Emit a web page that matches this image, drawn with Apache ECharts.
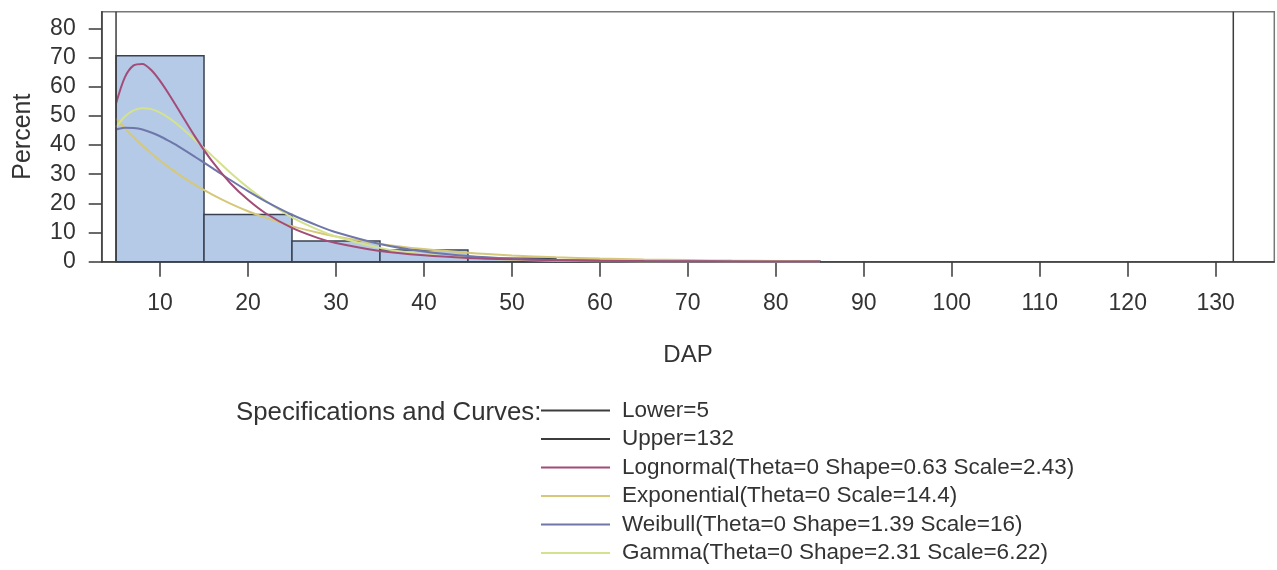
<!DOCTYPE html>
<html>
<head>
<meta charset="utf-8">
<title>DAP distribution</title>
<script src="https://cdn.jsdelivr.net/npm/echarts@6/dist/echarts.min.js"></script>
<style>
  html, body { margin: 0; padding: 0; background: #ffffff; }
  #chart { width: 1277px; height: 570px; }
</style>
</head>
<body>
<div id="chart"></div>
<script>
// Histogram of DAP (bin width 10), percent of trees per bin
const binStart = [5, 15, 25, 35, 45, 55, 65, 75];
const binWidth = 10;
const binPercent = [70.6, 16.2, 7.1, 4.0, 1.2, 0.5, 0.2, 0.2];

// Specification limits
const lowerLimit = 5;
const upperLimit = 132;

// Fitted density curves, scaled to percent per bin
const curveX = [5, 6, 7, 8, 9, 10, 11, 12, 14, 16, 18, 20, 22, 25, 28, 30, 35, 40, 45, 50, 55, 60, 65, 70, 75, 80, 85];
const lognormalY = [54.2, 63.2, 67.3, 67.8, 65.7, 62.0, 57.5, 52.6, 42.8, 34.1, 26.9, 21.2, 16.6, 11.6, 8.1, 6.4, 3.7, 2.2, 1.3, 0.8, 0.5, 0.3, 0.2, 0.14, 0.09, 0.07, 0.05];
const exponentialY = [49.1, 45.8, 42.7, 39.8, 37.2, 34.7, 32.4, 30.2, 26.3, 22.9, 19.9, 17.3, 15.1, 12.2, 9.9, 8.65, 6.11, 4.32, 3.05, 2.16, 1.52, 1.08, 0.76, 0.54, 0.38, 0.27, 0.19];
const weibullY = [45.3, 45.9, 45.8, 45.3, 44.3, 43.0, 41.4, 39.7, 35.9, 32.0, 28.0, 24.2, 20.7, 16.1, 12.3, 10.1, 6.06, 3.48, 1.93, 1.04, 0.54, 0.27, 0.13, 0.07, 0.03, 0.01, 0.0];
const gammaY = [46.1, 49.8, 51.9, 52.6, 52.3, 51.1, 49.3, 47.0, 41.7, 36.1, 30.5, 25.4, 20.9, 15.2, 10.9, 8.65, 4.74, 2.53, 1.32, 0.68, 0.34, 0.17, 0.08, 0.04, 0.02, 0.01, 0.0];

// Axis ticks
const xTicks = [10, 20, 30, 40, 50, 60, 70, 80, 90, 100, 110, 120, 130];
const yTicks = [0, 10, 20, 30, 40, 50, 60, 70, 80];

const names = {
  lower: 'Lower=' + lowerLimit,
  upper: 'Upper=' + upperLimit,
  lognormal: 'Lognormal(Theta=0 Shape=0.63 Scale=2.43)',
  exponential: 'Exponential(Theta=0 Scale=14.4)',
  weibull: 'Weibull(Theta=0 Shape=1.39 Scale=16)',
  gamma: 'Gamma(Theta=0 Shape=2.31 Scale=6.22)'
};

const colors = {
  limit: '#3c3c3c',
  lognormal: '#a24c78',
  exponential: '#d6c87a',
  weibull: '#6e76aa',
  gamma: '#d4e28e'
};

const xMin = 3.37, xMax = 136.66;
const yMin = 0, yMax = 85.7;

const pair = (ys) => curveX.map((x, i) => [x, ys[i]]);
const histData = binStart.map((s, i) => [s, s + binWidth, binPercent[i]]);

const FONT = '"Liberation Sans", Arial, Helvetica, sans-serif';
const TEXT = '#333333';

const chart = echarts.init(document.getElementById('chart'), null, { renderer: 'canvas' });

function curve(name, data, color, z) {
  return {
    name: name,
    type: 'line',
    data: data,
    smooth: 0.3,
    symbol: 'none',
    z: z,
    lineStyle: { color: color, width: 2 },
    itemStyle: { color: color }
  };
}

function limitLine(name, x) {
  return {
    name: name,
    type: 'line',
    data: [[x, yMin], [x, yMax]],
    symbol: 'none',
    z: 10,
    lineStyle: { color: colors.limit, width: 1.5 },
    itemStyle: { color: colors.limit }
  };
}

// Legend entries drawn as thin line swatches
const legendEntry = (name, color) => ({ name: name, icon: 'rect', itemStyle: { color: color } });

chart.setOption({
  animation: false,
  backgroundColor: '#ffffff',
  textStyle: { fontFamily: FONT, color: TEXT },
  title: {
    text: 'Specifications and Curves:',
    left: 236,
    top: 400,
    padding: 0,
    textStyle: { fontFamily: FONT, fontSize: 25.8, fontWeight: 'normal', color: TEXT }
  },
  legend: {
    orient: 'vertical',
    left: 541,
    top: 399,
    height: 200,
    padding: 0,
    itemWidth: 69,
    itemHeight: 2,
    itemGap: 5.5,
    selectedMode: false,
    data: [
      legendEntry(names.lower, colors.limit),
      legendEntry(names.upper, colors.limit),
      legendEntry(names.lognormal, colors.lognormal),
      legendEntry(names.exponential, colors.exponential),
      legendEntry(names.weibull, colors.weibull),
      legendEntry(names.gamma, colors.gamma)
    ],
    textStyle: { fontFamily: FONT, fontSize: 22.5, color: TEXT, lineHeight: 21, padding: [0, 0, 0, 7] }
  },
  grid: {
    left: 101.7,
    right: 2.7,
    top: 11.7,
    bottom: 308.3,
    show: true,
    borderColor: '#777777',
    borderWidth: 1.5,
    backgroundColor: 'transparent'
  },
  xAxis: {
    type: 'value',
    min: xMin,
    max: xMax,
    name: 'DAP',
    nameLocation: 'middle',
    nameGap: 82,
    nameTextStyle: { fontFamily: FONT, fontSize: 24, color: TEXT },
    axisLine: { show: true, lineStyle: { color: '#3a3a3a', width: 1.5 } },
    axisTick: { show: true, customValues: xTicks, length: 15, lineStyle: { color: '#3a3a3a', width: 1.5 } },
    axisLabel: { customValues: xTicks, fontSize: 23, color: TEXT, margin: 30 },
    splitLine: { show: false }
  },
  yAxis: {
    type: 'value',
    min: yMin,
    max: yMax,
    name: 'Percent',
    nameLocation: 'middle',
    nameRotate: 90,
    nameGap: 66,
    nameTextStyle: { fontFamily: FONT, fontSize: 25, color: TEXT },
    axisLine: { show: true, lineStyle: { color: '#3a3a3a', width: 1.5 } },
    axisTick: { show: true, customValues: yTicks, length: 13, lineStyle: { color: '#3a3a3a', width: 1.5 } },
    axisLabel: { customValues: yTicks, fontSize: 23, color: TEXT, margin: 26 },
    splitLine: { show: false }
  },
  series: [
    {
      name: 'Histogram',
      type: 'custom',
      data: histData,
      encode: { x: [0, 1], y: 2 },
      z: 1,
      renderItem: function (params, api) {
        const topLeft = api.coord([api.value(0), api.value(2)]);
        const bottomRight = api.coord([api.value(1), 0]);
        return {
          type: 'rect',
          shape: {
            x: topLeft[0],
            y: topLeft[1],
            width: bottomRight[0] - topLeft[0],
            height: bottomRight[1] - topLeft[1]
          },
          style: { fill: '#b4cae6', stroke: '#3a4252', lineWidth: 1.5 }
        };
      }
    },
    limitLine(names.lower, lowerLimit),
    limitLine(names.upper, upperLimit),
    curve(names.exponential, pair(exponentialY), colors.exponential, 3),
    curve(names.gamma, pair(gammaY), colors.gamma, 4),
    curve(names.weibull, pair(weibullY), colors.weibull, 5),
    curve(names.lognormal, pair(lognormalY), colors.lognormal, 6)
  ]
});
</script>
</body>
</html>
